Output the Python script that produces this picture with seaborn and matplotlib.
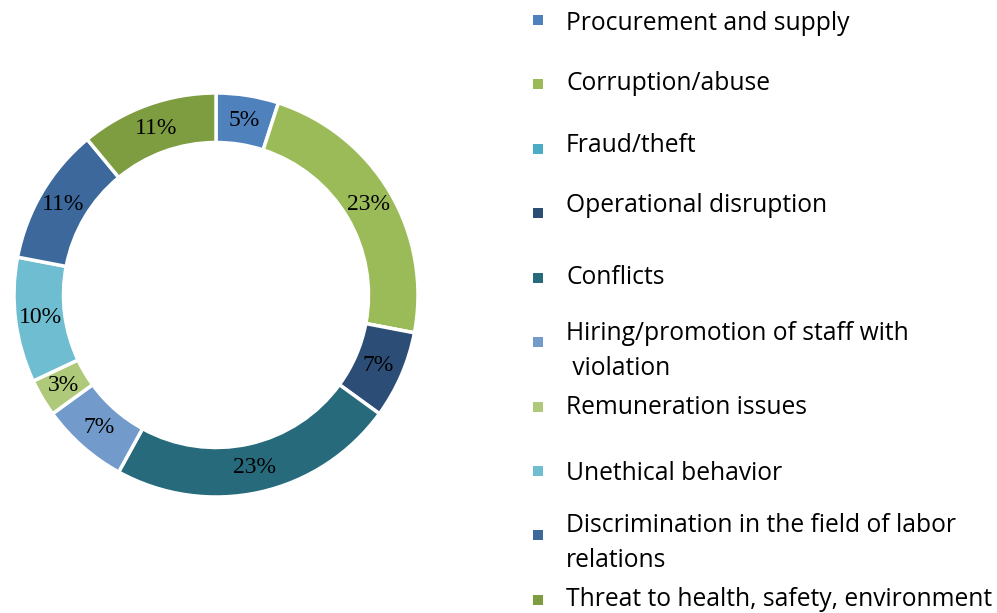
import matplotlib.pyplot as plt
import seaborn as sns

# data
categories = [
    "Procurement and supply",
    "Corruption/abuse",
    "Fraud/theft",
    "Operational disruption",
    "Conflicts",
    "Hiring/promotion of staff with\n violation",
    "Remuneration issues",
    "Unethical behavior",
    "Discrimination in the field of labor\nrelations",
    "Threat to health, safety, environment",
]
shares = [5, 23, 0, 7, 23, 7, 3, 10, 11, 11]
colors = ["#4F81BD", "#9BBB59", "#4BACC6", "#2C4D75", "#276A7C",
          "#729ACA", "#AFC97A", "#6FBDD1", "#3C689C", "#7E9C40"]

sns.set_theme(style="white")
plt.rcParams['font.family'] = ['Open Sans', 'DejaVu Sans']

W, H = 997, 613
fig = plt.figure(figsize=(W / 100, H / 100), dpi=100)

# donut: centre (216, 295) px, radius 202 px
ax = fig.add_axes([14 / W, (H - 497) / H, 404 / W, 404 / H])
wedges, texts, autotexts = ax.pie(
    shares, colors=colors, startangle=90, counterclock=False, radius=1,
    autopct=lambda p: f"{p:.0f}%" if p >= 0.5 else "",
    pctdistance=0.877,
    wedgeprops=dict(width=0.245, edgecolor="white", linewidth=2.5),
    textprops=dict(fontsize=17, family="Liberation Serif", color="black"),
)
ax.set_xlim(-1, 1)
ax.set_ylim(-1, 1)
ax.set_aspect("equal")
ax.axis("off")

# legend drawn by hand in pixel coordinates
lax = fig.add_axes([0, 0, 1, 1])
lax.set_xlim(0, W)
lax.set_ylim(H, 0)
lax.axis("off")
marker_y = [20, 84, 149, 213, 278, 342, 407, 471, 535, 600]
text_y = [24, 83, 146, 205, 277, 351, 408, 474, 543, 600]
lax.scatter([538] * len(categories), marker_y, marker="s", s=42,
            c=colors, linewidths=0)
for lab, ty in zip(categories, text_y):
    lax.text(566, ty, lab, fontsize=17.7, va="center", ha="left",
             color="black", linespacing=1.5)

fig.savefig("out.png", dpi=100)
plt.close(fig)
